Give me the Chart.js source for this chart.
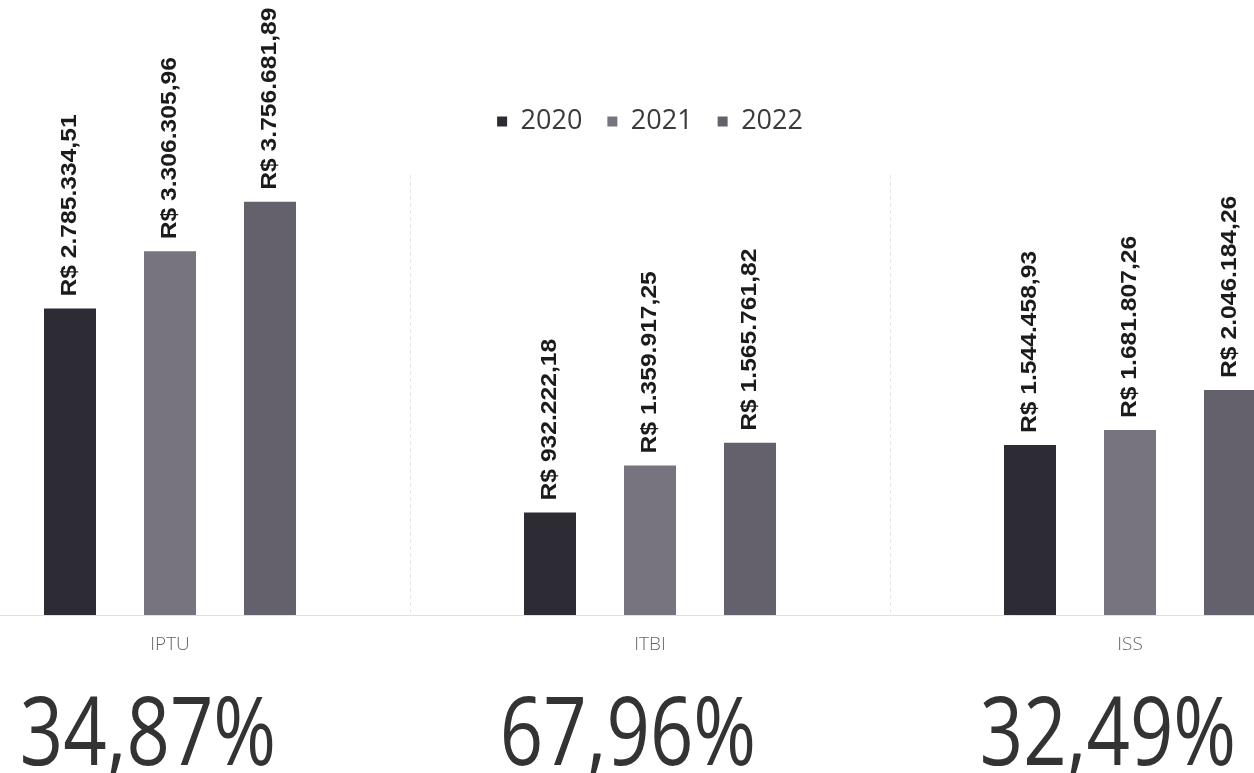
<!DOCTYPE html>
<html lang="pt-BR">
<head>
<meta charset="utf-8">
<title>IPTU, ITBI, ISS 2020 - 2022</title>
<script src="https://cdn.jsdelivr.net/npm/chart.js@4.4.1/dist/chart.umd.min.js"></script>
<style>
    html, body { margin: 0; padding: 0; background: #fff; overflow: hidden; }
    body { width: 1254px; height: 773px; position: relative; }
    #wrap { position: absolute; left: -70px; top: 0; width: 1440px; height: 773px; }
</style>
</head>
<body>
<div id="wrap"><canvas id="receitas"></canvas></div>
<script>
    // Data
    var categorias = ["IPTU", "ITBI", "ISS"];
    var anos = ["2020", "2021", "2022"];
    var valores2020 = [2785334.51, 932222.18, 1544458.93];
    var valores2021 = [3306305.96, 1359917.25, 1681807.26];
    var valores2022 = [3756681.89, 1565761.82, 2046184.26];
    var variacao = ["34,87%", "67,96%", "32,49%"];
    var cores = ["#2d2b33", "#77747f", "#64616d"];

    var fonte = "'Open Sans', sans-serif";

    // R$ 1.234.567,89
    function formatBRL(v) {
        var partes = v.toFixed(2).split(".");
        var inteiro = partes[0].replace(/\B(?=(\d{3})+(?!\d))/g, ".");
        return "R$ " + inteiro + "," + partes[1];
    }

    // Value labels, rotated, above each bar
    var rotuloBarras = {
        id: "rotuloBarras",
        afterDatasetsDraw: function (chart) {
            var ctx = chart.ctx;
            ctx.save();
            ctx.font = "bold 22px 'Liberation Sans', Arial, sans-serif";
            ctx.fillStyle = "#1b1b1b";
            ctx.textAlign = "left";
            ctx.textBaseline = "middle";
            chart.data.datasets.forEach(function (ds, i) {
                chart.getDatasetMeta(i).data.forEach(function (bar, j) {
                    ctx.save();
                    ctx.translate(bar.x, bar.y - 12);
                    ctx.rotate(-Math.PI / 2);
                    ctx.scale(1.12, 1);
                    ctx.fillText(formatBRL(ds.data[j]), 0, 0);
                    ctx.restore();
                });
            });
            ctx.restore();
        }
    };

    // Big percentage under each category, placed on the "xp" axis
    var rotuloVariacao = {
        id: "rotuloVariacao",
        afterDraw: function (chart) {
            var sc = chart.scales.xp;
            var ctx = chart.ctx;
            ctx.save();
            ctx.font = "95px " + fonte;
            ctx.fillStyle = "#333";
            ctx.textAlign = "center";
            ctx.textBaseline = "alphabetic";
            sc.getLabels().forEach(function (txt, i) {
                ctx.save();
                ctx.translate(sc.getPixelForTick(i) - 22, sc.top + 108);
                ctx.scale(0.8, 1);
                ctx.fillText(txt, 0, 0);
                ctx.restore();
            });
            ctx.restore();
        }
    };

    // Extra space between legend and plot area
    var espacoLegenda = {
        id: "espacoLegenda",
        beforeLayout: function (chart) {
            var lg = chart.legend;
            if (lg && !lg._gap) {
                var fit = lg.fit;
                lg.fit = function () {
                    fit.call(this);
                    this.height += 30;
                };
                lg._gap = true;
            }
        }
    };

    var ctx1 = document.getElementById("receitas").getContext("2d");

    var grafico = new Chart(ctx1, {
        type: "bar",
        data: {
            labels: categorias,
            datasets: [
                { label: anos[0], data: valores2020, backgroundColor: cores[0] },
                { label: anos[1], data: valores2021, backgroundColor: cores[1] },
                { label: anos[2], data: valores2022, backgroundColor: cores[2] }
            ]
        },
        options: {
            responsive: true,
            maintainAspectRatio: false,
            animation: false,
            categoryPercentage: 0.625,
            barPercentage: 0.52,
            layout: { padding: { top: 83, left: 0, right: 0, bottom: 0 } },
            plugins: {
                tooltip: { enabled: false },
                legend: {
                    position: "top",
                    labels: {
                        boxWidth: 10,
                        boxHeight: 10,
                        padding: 25,
                        color: "#3a3a3a",
                        font: { family: fonte, size: 27 }
                    }
                }
            },
            scales: {
                y: {
                    display: false,
                    min: 0,
                    max: 4000000
                },
                x: {
                    offset: true,
                    grid: {
                        offset: true,
                        drawTicks: false,
                        color: "rgba(0,0,0,0.1)"
                    },
                    border: { display: true, color: "#e0e0e0", dash: [4, 3] },
                    ticks: {
                        padding: 18,
                        color: "#666",
                        font: { family: fonte, size: 19, weight: "300" }
                    },
                    afterFit: function (scale) { scale.height = 42; }
                },
                xp: {
                    type: "category",
                    position: "bottom",
                    labels: variacao,
                    offset: true,
                    grid: { display: false, drawTicks: false },
                    border: { display: false },
                    ticks: { display: false },
                    afterFit: function (scale) { scale.height = 116; }
                }
            }
        },
        plugins: [rotuloBarras, rotuloVariacao, espacoLegenda]
    });
</script>
</body>
</html>
